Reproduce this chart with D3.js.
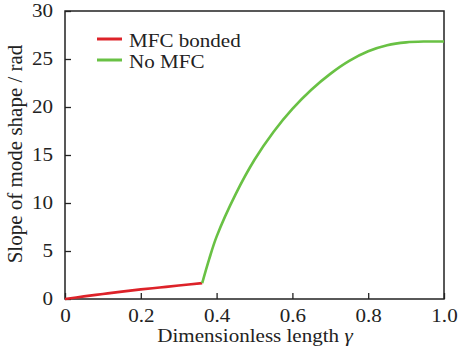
<!DOCTYPE html>
<html>
<head>
<meta charset="utf-8">
<script src="https://cdn.jsdelivr.net/npm/d3@7"></script>
<style>
  html, body { margin: 0; padding: 0; background: #fff; }
  svg { display: block; }
</style>
</head>
<body>
<svg id="chart" width="462" height="354"></svg>
<script>
// Data
const seriesNames = ["MFC bonded", "No MFC"];
const seriesColors = ["#dd2229", "#69c144"];
const mfcX = [0, 0.05, 0.1, 0.15, 0.2, 0.25, 0.3, 0.362];
const mfcY = [0, 0.27, 0.52, 0.77, 1.0, 1.2, 1.4, 1.65];
const noMfcX = [0.362, 0.38, 0.40, 0.45, 0.50, 0.55, 0.60, 0.65, 0.70, 0.75, 0.80, 0.85, 0.90, 0.95, 1.00];
const noMfcY = [1.65, 4.1, 6.5, 10.9, 14.5, 17.4, 19.8, 21.8, 23.45, 24.8, 25.8, 26.43, 26.73, 26.82, 26.82];
const xTicks = [0, 0.2, 0.4, 0.6, 0.8, 1.0];
const yTicks = [0, 5, 10, 15, 20, 25, 30];
const xLabel = "Dimensionless length ";
const xLabelSym = "γ";
const yLabel = "Slope of mode shape / rad";

const FONT = "'Liberation Serif', 'Times New Roman', serif";
const SX = 1.17; // horizontal stretch of the original typesetting

const svg = d3.select("#chart");
const L = 65, R = 444, T = 11, B = 299;
const x = d3.scaleLinear().domain([0, 1]).range([L, R]);
const y = d3.scaleLinear().domain([0, 30]).range([B, T]);

// frame
svg.append("rect").attr("x", L).attr("y", T).attr("width", R - L).attr("height", B - T)
  .attr("fill", "none").attr("stroke", "#222").attr("stroke-width", 1.5);

// axes with inward ticks
const xAxis = svg.append("g").attr("transform", `translate(0,${B})`)
  .call(d3.axisBottom(x).tickValues(xTicks).tickSize(-6).tickPadding(10)
    .tickFormat(d => d === 0 ? "0" : d3.format(".1f")(d)));
const yAxis = svg.append("g").attr("transform", `translate(${L},0)`)
  .call(d3.axisLeft(y).tickValues(yTicks).tickSize(-6).tickPadding(12).tickFormat(d3.format("d")));
[xAxis, yAxis].forEach(g => {
  g.select(".domain").remove();
  g.attr("font-family", FONT).attr("font-size", 18);
  g.selectAll(".tick line").attr("stroke", "#222").attr("stroke-width", 1.3);
  g.selectAll(".tick text").attr("fill", "#222")
    .attr("x", function() { return (+d3.select(this).attr("x") || 0) / SX; })
    .attr("transform", `scale(${SX},1)`);
});

// lines
const line = d3.line().x(d => x(d[0])).y(d => y(d[1])).curve(d3.curveCatmullRom.alpha(0.5));
const mfc = mfcX.map((v, i) => [v, mfcY[i]]);
const nomfc = noMfcX.map((v, i) => [v, noMfcY[i]]);
svg.append("path").datum(mfc).attr("d", line).attr("fill", "none")
  .attr("stroke", seriesColors[0]).attr("stroke-width", 2.6);
svg.append("path").datum(nomfc).attr("d", line).attr("fill", "none")
  .attr("stroke", seriesColors[1]).attr("stroke-width", 2.6);

// legend
seriesNames.forEach((name, i) => {
  const ly = 39 + i * 21;
  svg.append("line").attr("x1", 97).attr("x2", 122).attr("y1", ly).attr("y2", ly)
    .attr("stroke", seriesColors[i]).attr("stroke-width", 3);
  svg.append("text").attr("transform", `translate(129,${ly + 7.5}) scale(${SX},1)`).text(name)
    .attr("fill", "#222").attr("font-family", FONT).attr("font-size", 18);
});

// axis labels
const xl = svg.append("text").attr("transform", `translate(255,342) scale(${SX},1)`)
  .attr("text-anchor", "middle")
  .attr("fill", "#222").attr("font-family", FONT).attr("font-size", 18);
xl.append("tspan").text(xLabel);
xl.append("tspan").text(xLabelSym).attr("font-style", "italic");
svg.append("text").attr("transform", "translate(22,154) rotate(-90)").attr("text-anchor", "middle")
  .attr("fill", "#222").attr("font-family", FONT).attr("font-size", 21).text(yLabel);
</script>
</body>
</html>
